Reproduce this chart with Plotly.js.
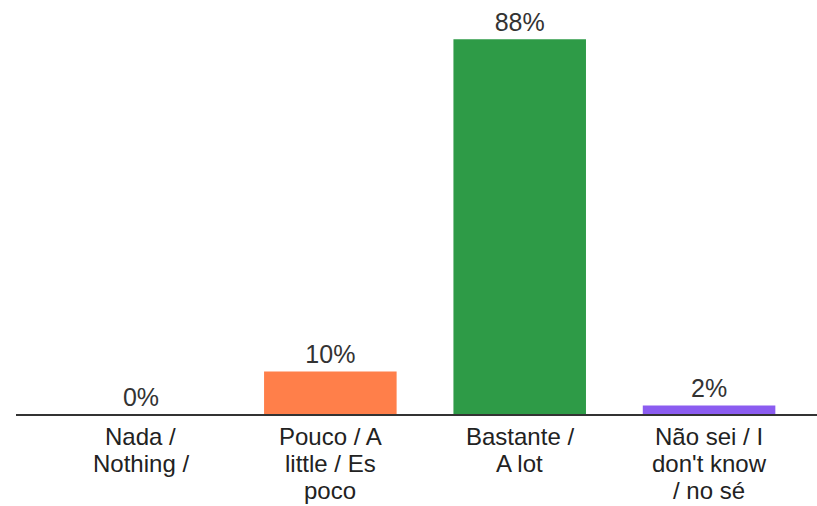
<!DOCTYPE html>
<html><head><meta charset="utf-8">
<script src="https://cdn.plot.ly/plotly-3.0.1.min.js"></script>
<style>body{margin:0;background:#fff}#c{width:817px;height:506px}</style>
</head><body><div id="c"></div>
<script>
const categories = ["Nada / Nothing /", "Pouco / A little / Es poco", "Bastante / A lot", "Não sei / I don't know / no sé"];
const tickLines = [
  ["Nada /", "Nothing /"],
  ["Pouco / A", "little / Es", "poco"],
  ["Bastante /", "A lot"],
  ["Não sei / I", "don't know", "/ no sé"]
];
const values = [0, 10, 88, 2];
const labels = ["0%", "10%", "88%", "2%"];
const colors = ["#3366cc", "#ff7f4a", "#2e9b47", "#8b5cf0"];

const FONT = "Liberation Sans, Arial, sans-serif";
const annotations = [];
tickLines.forEach((lines, i) => {
  lines.forEach((t, j) => {
    annotations.push({
      x: i, y: 0, xref: "x", yref: "y",
      text: t, showarrow: false,
      xanchor: "center", yanchor: "middle",
      yshift: -(22 + j * 27),
      font: {family: FONT, size: 24, color: "#222"}
    });
  });
});

Plotly.newPlot("c", [{
  type: "bar",
  x: [0, 1, 2, 3],
  y: values,
  width: 0.7,
  marker: {color: colors},
  text: labels,
  textposition: "outside",
  cliponaxis: false,
  textfont: {family: FONT, size: 25, color: "#333"},
  hoverinfo: "none"
}], {
  width: 817, height: 506,
  margin: {l: 16, r: 0, t: 20, b: 92},
  paper_bgcolor: "#fff", plot_bgcolor: "#fff",
  showlegend: false,
  font: {family: FONT, size: 24, color: "#222"},
  annotations: annotations,
  xaxis: {
    range: [-0.66, 3.57],
    tickvals: [0, 1, 2, 3],
    ticktext: categories,
    showticklabels: false,
    showline: true, linecolor: "#333", linewidth: 2,
    showgrid: false, zeroline: false, ticks: ""
  },
  yaxis: {range: [0, 92.5], visible: false, showgrid: false, zeroline: false}
}, {staticPlot: true});
</script></body></html>
